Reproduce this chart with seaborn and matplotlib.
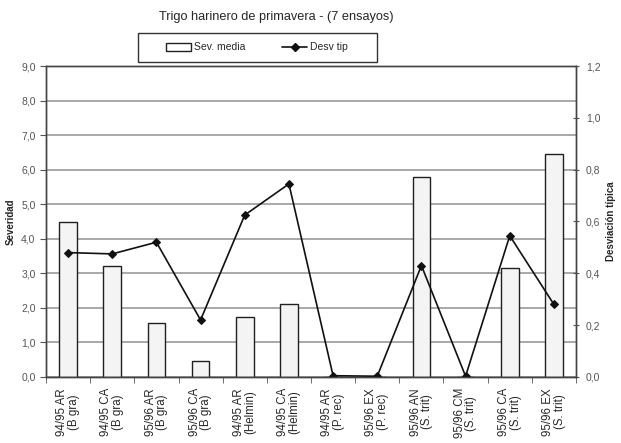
import numpy as np
import pandas as pd
import seaborn as sns
import matplotlib.pyplot as plt
from matplotlib.patches import Patch, Rectangle
from matplotlib.lines import Line2D
from matplotlib.ticker import FuncFormatter, MultipleLocator

# data
ensayos = ["94/95 AR\n(B gra)", "94/95 CA\n(B gra)", "95/96 AR\n(B gra)", "95/96 CA\n(B gra)",
           "94/95 AR\n(Helmin)", "94/95 CA\n(Helmin)", "94/95 AR\n(P. rec)", "95/96 EX\n(P. rec)",
           "95/96 AN\n(S. trit)", "95/96 CM\n(S. trit)", "95/96 CA\n(S. trit)", "95/96 EX\n(S. trit)"]
sev_media = [4.5, 3.2, 1.55, 0.45, 1.75, 2.1, 0.0, 0.0, 5.8, 0.0, 3.15, 6.45]
desv_tip = [0.48, 0.475, 0.52, 0.22, 0.625, 0.745, 0.005, 0.003, 0.43, 0.003, 0.545, 0.28]

data = pd.DataFrame({"Ensayo": ensayos, "Sev": sev_media, "Desv": desv_tip})

sns.set_style("white")
plt.rcParams['font.family'] = ['Liberation Sans', 'DejaVu Sans']

W, H = 621, 443
fig = plt.figure(figsize=(6.21, 4.43), dpi=100)
ax = fig.add_axes([46 / W, 1 - 377 / H, 530 / W, 311 / H])

sns.barplot(x="Ensayo", y="Sev", data=data, ax=ax, width=0.4,
            color="#f4f4f4", edgecolor="#202020", linewidth=1.0, saturation=1)
ax.set_ylim(0, 9)
ax.set_xlim(-0.5, len(ensayos) - 0.5)
ax.yaxis.set_major_locator(MultipleLocator(1.0))
ax.yaxis.set_major_formatter(FuncFormatter(lambda v, p: f"{v:.1f}".replace(".", ",")))
ax.grid(axis="y", color="#999999", linewidth=1.2)
ax.set_axisbelow(True)
ax.set_xlabel("")
ax.set_ylabel("Severidad", fontsize=7, fontweight="bold", labelpad=4)
ax.tick_params(axis="y", labelsize=7.5, labelcolor="#555555", length=4, direction="out",
               color="#555555", left=True)
# x ticks sit between categories, labels at centres
ax.set_xticks(np.arange(len(ensayos)))
ax.set_xticklabels(ensayos, rotation=90, fontsize=8.3, linespacing=0.95)
ax.set_xticks(np.arange(len(ensayos) + 1) - 0.5, minor=True)
ax.tick_params(axis="x", which="major", length=0, pad=8)
ax.tick_params(axis="x", which="minor", length=4, direction="out", color="#555555", bottom=True)
for s in ax.spines.values():
    s.set_color("#444444")
    s.set_linewidth(1.0)

ax2 = ax.twinx()
sns.lineplot(x=np.arange(len(ensayos)), y=desv_tip, ax=ax2, color="#111111",
             marker="D", markersize=4, linewidth=1.2, markeredgecolor="#111111")
ax2.set_ylim(0, 1.2)
ax2.set_xlim(-0.5, len(ensayos) - 0.5)
ax2.yaxis.set_major_locator(MultipleLocator(0.2))
ax2.yaxis.set_major_formatter(FuncFormatter(lambda v, p: f"{v:.1f}".replace(".", ",")))
ax2.set_ylabel("Desviación típica", fontsize=7, fontweight="bold", labelpad=4)
ax2.tick_params(axis="y", labelsize=7.5, labelcolor="#555555", length=4, direction="inout",
                color="#555555", right=True, pad=5)
for s in ax2.spines.values():
    s.set_color("#444444")
    s.set_linewidth(1.0)

fig.text(276 / W, 1 - 17 / H, "Trigo harinero de primavera - (7 ensayos)", ha="center",
         va="center", fontsize=9.2)

# legend box drawn separately, items centred inside it
fig.patches.append(Rectangle((138 / W, 1 - 62 / H), 239 / W, 29 / H, transform=fig.transFigure,
                             facecolor="white", edgecolor="#333333", linewidth=1.0))
handles = [Patch(facecolor="white", edgecolor="#202020", linewidth=1.0),
           Line2D([0], [0], color="#111111", marker="D", markersize=4, linewidth=1.2)]
fig.legend(handles, ["Sev. media", "Desv tip"], loc="center", bbox_to_anchor=(257 / W, 1 - 47.5 / H),
           ncol=2, fontsize=7.5, frameon=False, handlelength=2.4, columnspacing=3.5,
           handletextpad=0.3, borderaxespad=0)

fig.savefig("out.png", dpi=100)
